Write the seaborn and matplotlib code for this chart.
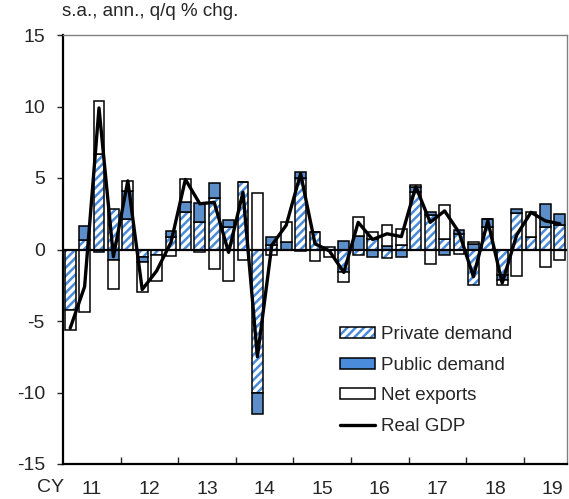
import numpy as np
import pandas as pd
import seaborn as sns
import matplotlib.pyplot as plt
from matplotlib.patches import Patch
from matplotlib.lines import Line2D

## contributions to real GDP growth, 2011Q1 - 2019Q3
years = ['11', '12', '13', '14', '15', '16', '17', '18', '19']
private = [-4.2, 0.65, 6.7, 2.85, 2.1, -0.5, -0.35, 0.85, 2.6, 1.95, 3.6, 1.6,
           4.74, -10.06, 0.3, 0.0, 5.0, 1.25, 0.15, -1.55, -0.4, 0.7, -0.6, 0.3,
           4.05, 2.4, 0.75, 1.1, -2.45, 1.6, -1.8, 2.55, 0.85, 1.6, 1.7]
public = [0.0, 1.0, -0.2, -0.75, 2.0, -0.4, 0.0, 0.45, 0.75, 1.3, 1.05, 0.45,
          0.0, -1.47, 0.55, 0.5, 0.4, 0.0, -0.05, 0.6, 0.95, -0.55, 0.25, -0.5,
          0.3, 0.25, -0.4, 0.25, 0.4, 0.5, -0.3, 0.25, 0.05, 1.6, 0.78]
net_exports = [-1.45, -4.35, 3.65, -2.0, 0.7, -2.05, -1.85, -0.43, 1.55, -0.15, -1.35, -2.2,
               -0.75, 3.97, -0.4, 1.45, -0.1, -0.8, -0.5, -0.7, 1.3, 0.5, 1.45, 1.1,
               0.15, -1.0, 2.35, -0.3, 0.15, 0.0, -0.35, -1.85, 1.75, -1.25, -0.75]
real_gdp = [-5.5, -2.6, 9.9, -0.5, 4.8, -2.8, -1.5, 0.5, 4.9, 3.2, 3.3, -0.2,
            4.0, -7.5, 0.3, 1.7, 5.3, 0.4, -0.1, -1.6, 1.9, 0.7, 1.1, 0.9,
            4.4, 1.9, 2.7, 1.2, -1.9, 2.0, -2.35, 1.0, 2.6, 2.0, 1.8]

sns.set_style('ticks')
plt.rcParams['font.family'] = ['Liberation Sans', 'DejaVu Sans']
plt.rcParams['axes.unicode_minus'] = False
plt.rcParams['hatch.linewidth'] = 1.8

blue = '#4a8cdb'
n = len(private)
q = np.arange(n)

## stacking: positives build up from 0, negatives build down from 0
series = [np.array(private), np.array(public), np.array(net_exports)]
bottoms = []
pos_cum = np.zeros(n)
neg_cum = np.zeros(n)
for s in series:
    bottoms.append(np.where(s >= 0, pos_cum, neg_cum))
    pos_cum = pos_cum + np.clip(s, 0, None)
    neg_cum = neg_cum + np.clip(s, None, 0)

df = pd.DataFrame({'q': q, 'private': private, 'public': public, 'net': net_exports})

fig, ax = plt.subplots(figsize=(5.69, 4.99), dpi=100)
fig.subplots_adjust(left=63/569, right=567/569, top=1-35/499, bottom=1-464/499)

w = 0.75
sns.barplot(data=df, x='q', y='private', color='white', width=w, errorbar=None, ax=ax,
            bottom=bottoms[0], edgecolor=blue, linewidth=0, hatch='////')
sns.barplot(data=df, x='q', y='private', color='black', fill=False, width=w, errorbar=None, ax=ax,
            bottom=bottoms[0], linewidth=1.1)
sns.barplot(data=df, x='q', y='public', color=blue, width=w, errorbar=None, ax=ax,
            bottom=bottoms[1], edgecolor='black', linewidth=1.1)
sns.barplot(data=df, x='q', y='net', color='white', width=w, errorbar=None, ax=ax,
            bottom=bottoms[2], edgecolor='black', linewidth=1.1)

ax.axhline(0, color='black', lw=1.6, zorder=3)
sns.lineplot(x=q, y=real_gdp, color='black', linewidth=2.4, ax=ax, zorder=4)

ax.set_xlim(-0.5, n - 0.5)
ax.set_ylim(-15, 15)
ax.set_yticks(np.arange(-15, 16, 5))
ax.set_xticks(np.arange(3.5, n - 1, 4))
ax.set_xticklabels([])
ax.set_xticks(np.arange(1.5, n + 1, 4), minor=True)
ax.set_xticklabels(years, minor=True)
ax.tick_params(axis='x', which='major', direction='in', length=5, width=1)
ax.tick_params(axis='x', which='minor', length=0, pad=12.5, labelsize=14)
ax.tick_params(axis='y', direction='out', length=4, width=1, pad=9, labelsize=14)
ax.set_xlabel('')
ax.set_ylabel('')

for side in ['left', 'bottom']:
    ax.spines[side].set_color('black')
    ax.spines[side].set_linewidth(1.6)
for side in ['top', 'right']:
    ax.spines[side].set_color('#808080')
    ax.spines[side].set_linewidth(1.0)

fig.text(50/569, 1-488/499, 'CY', ha='center', va='center', fontsize=14)
fig.text(62/569, 1-12/499, 's.a., ann., q/q % chg.', ha='left', va='center', fontsize=13.5)

h_priv = (Patch(facecolor='white', edgecolor=blue, hatch='////', linewidth=0),
          Patch(facecolor='none', edgecolor='black', linewidth=1.1))
h_pub = Patch(facecolor=blue, edgecolor='black', linewidth=1.1)
h_net = Patch(facecolor='white', edgecolor='black', linewidth=1.1)
h_gdp = Line2D([], [], color='black', linewidth=2.4)
ax.legend([h_priv, h_pub, h_net, h_gdp],
          ['Private demand', 'Public demand', 'Net exports', 'Real GDP'],
          loc='upper left', bbox_to_anchor=(0.55, 0.321), frameon=False,
          handlelength=1.87, handleheight=0.53, labelspacing=0.72, handletextpad=0.32,
          fontsize=13.5, borderpad=0, borderaxespad=0)

fig.savefig('out.png', dpi=100)
